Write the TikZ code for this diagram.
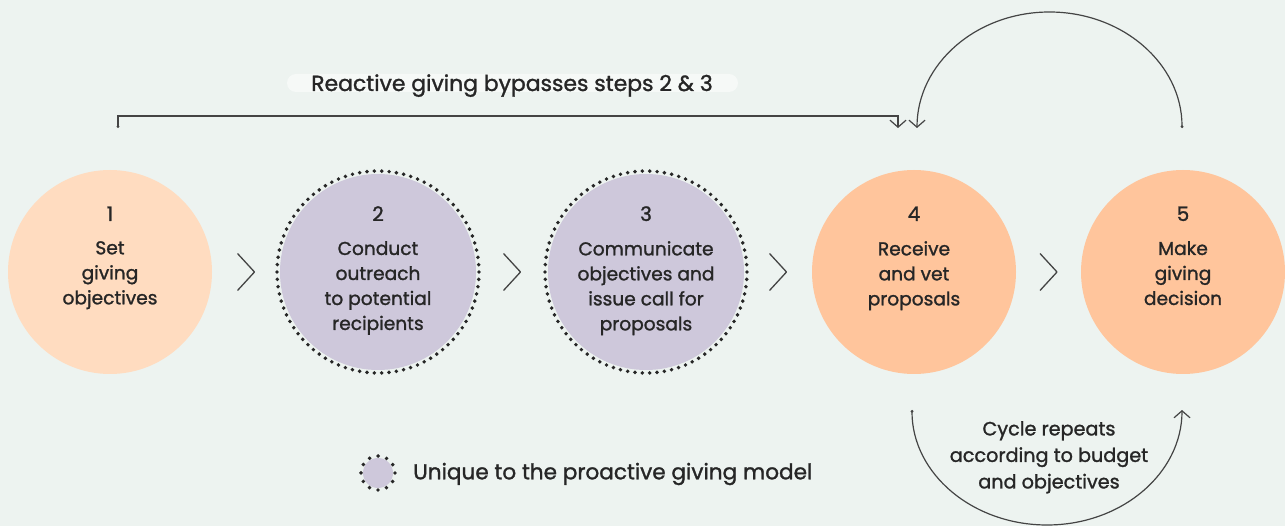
\documentclass[tikz,border=0pt]{standalone}
\usepackage{fontspec}
\setmainfont{Poppins}[FakeBold=1.3]
\usetikzlibrary{arrows.meta,calc}

\definecolor{bg}{HTML}{EDF3F0}
\definecolor{peachlt}{HTML}{FFDCC0}
\definecolor{peach}{HTML}{FFC59C}
\definecolor{lilac}{HTML}{CEC8DB}
\definecolor{ink}{HTML}{262626}
\definecolor{wire}{HTML}{444444}
\definecolor{pill}{HTML}{F6F9F7}

\tikzset{
  stepcircle/.style={circle, minimum size=204pt, inner sep=0pt},
  uniquecircle/.style={circle, minimum size=196pt, inner sep=0pt, fill=lilac},
  dotring/.style={draw=ink, line width=3.9pt, line cap=round, dash pattern=on 0pt off #1},
  numtext/.style={anchor=base, text=ink, inner sep=0pt, font=\fontsize{20}{25}\selectfont},
  steptext/.style={anchor=north, align=center, text=ink, inner sep=0pt, font=\fontsize{18.6}{25}\selectfont},
  chevron/.style={draw=wire, line width=1.3pt, line join=round},
  wireline/.style={draw=wire, line width=1.2pt},
  dotbarb/.style={{Circle[length=2.6pt]}-{Straight Barb[length=7pt,width=16pt,line width=1.2pt]}},
}

\begin{document}
\begin{tikzpicture}[x=1pt,y=-1pt]
  \fill[bg] (0,0) rectangle (1285,526);
  \useasboundingbox (0,0) rectangle (1285,526);

  % step circles
  \node[stepcircle, fill=peachlt] (s1) at (110,272) {};
  \node[uniquecircle] (s2) at (378,272) {};
  \node[uniquecircle] (s3) at (646,272) {};
  \node[stepcircle, fill=peach] (s4) at (914,272) {};
  \node[stepcircle, fill=peach] (s5) at (1183,272) {};
  \draw[dotring=7.38pt] (s2.center) circle[radius=101];
  \draw[dotring=7.38pt] (s3.center) circle[radius=101];

  % numbers and labels
  \foreach \n/\x in {1/110, 2/378, 3/646, 4/914, 5/1183}
    \node[numtext] (n\n) at (\x,221) {\n};
  \node[steptext] (t1) at (110,241) {Set\\giving\\objectives};
  \node[steptext] (t2) at (378,241) {Conduct\\outreach\\to potential\\recipients};
  \node[steptext] (t3) at (646,241) {Communicate\\objectives and\\issue call for\\proposals};
  \node[steptext] (t4) at (914,241) {Receive\\and vet\\proposals};
  \node[steptext] (t5) at (1183,241) {Make\\giving\\decision};

  % chevrons between steps
  \foreach \a/\b in {s1/s2, s2/s3, s3/s4, s4/s5}
    \draw[chevron] ($(\a.east)!0.5!(\b.west)+(-8.5,-18.5)$) -- ++(17,18.5) -- ++(-17,18.5);

  % reactive bypass bracket
  \fill[pill, rounded corners=9pt] (287,74) rectangle (738,92);
  \node[anchor=base, text=ink, inner sep=0pt, font=\fontsize{21.9}{25}\selectfont] (bypass) at (512,91) {Reactive giving bypasses steps 2 \& 3};
  \coordinate (bstart) at (118,128);
  \coordinate (bend) at (898,128);
  \draw[wireline, dotbarb] (bstart) -- ++(0,-12) -| (bend);

  % loop back from step 5 to step 4 over the top
  \coordinate (tstart) at (1182,128);
  \draw[wireline, dotbarb] (tstart) arc[start angle=0, end angle=-180, x radius=132.5, y radius=116] coordinate (tend);

  % cycle repeats, underneath
  \coordinate (ustart) at (912,410);
  \draw[wireline, dotbarb] (ustart) arc[start angle=180, end angle=0, x radius=135, y radius=115] coordinate (uend);
  \node[anchor=north, align=center, text=ink, inner sep=0pt, font=\fontsize{19.2}{26.5}\selectfont] (cycle) at (1049,421) {Cycle repeats\\according to budget\\and objectives};

  % legend
  \node[circle, minimum size=30pt, inner sep=0pt, fill=lilac] (key) at (378,473) {};
  \draw[dotring=8.9pt] (key.center) circle[radius=17];
  \node[anchor=west, text=ink, inner sep=0pt, font=\fontsize{21.6}{25}\selectfont] (keytext) at (413,474) {Unique to the proactive giving model};
\end{tikzpicture}
\end{document}
